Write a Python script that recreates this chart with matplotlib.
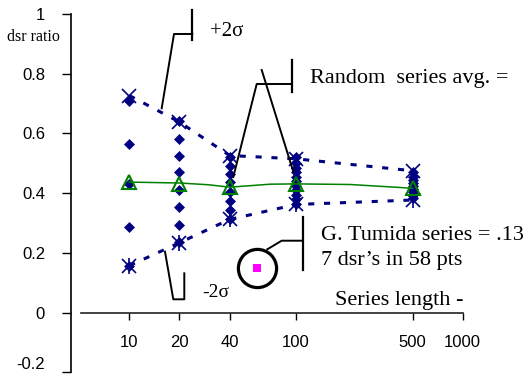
import matplotlib
matplotlib.use('Agg')
import matplotlib.pyplot as plt
import matplotlib.transforms as mtransforms
from matplotlib.lines import Line2D

# series length categories
lengths = [10, 20, 40, 100, 500]

# +/- 2 sigma envelopes of the random series
upper_2sd = [0.727, 0.638, 0.526, 0.515, 0.475]
lower_2sd = [0.157, 0.234, 0.312, 0.362, 0.377]

# random series average (markers + smoothed curve)
avg_ratio = [0.436, 0.431, 0.419, 0.431, 0.418]
avg_curve_x = [10, 20, 30, 40, 53, 70, 100, 210, 420, 500]
avg_curve_y = [0.437, 0.434, 0.428, 0.420, 0.425, 0.430, 0.431, 0.429, 0.419, 0.416]

# individual random series dsr ratios
ratios_10 = [0.71, 0.565, 0.431, 0.286, 0.155]
ratios_20 = [0.64, 0.582, 0.524, 0.47, 0.41, 0.353, 0.294, 0.236]
ratios_40 = [0.52, 0.492, 0.465, 0.436, 0.403, 0.375, 0.345, 0.315]
ratios_100 = [0.52, 0.50, 0.485, 0.47, 0.455, 0.44, 0.425, 0.41, 0.395, 0.38, 0.365]
ratios_500 = [0.47, 0.455, 0.445, 0.435, 0.425, 0.415, 0.405, 0.395, 0.385]

# G. tumida series
tumida_len = [58]
tumida_ratio = [0.15]

xticks = [10, 20, 40, 100, 500, 1000]
xticklabels = ['10', '20', '40', '100', '500', '1000']
yticks = [-0.2, 0, 0.2, 0.4, 0.6, 0.8, 1]
yticklabels = ['-0.2', '0', '0.2', '0.4', '0.6', '0.8', '1']

navy = '#000080'
green = '#008000'
serif = 'Liberation Serif'
sans = 'Liberation Sans'

W, H = 530, 377
fig = plt.figure(figsize=(W / 100, H / 100), dpi=100)
ax = fig.add_axes([70.7 / W, 4.7 / H, 392.0 / W, 358.3 / H])
ax.set_xscale('log')
ax.set_xlim(4.45, 1000)
ax.set_ylim(-0.2, 1)

# scatter of individual series
for n, vals in zip(lengths, [ratios_10, ratios_20, ratios_40, ratios_100, ratios_500]):
    ax.plot([n] * len(vals), vals, 'D', color=navy, ms=5.0, mew=0.5, zorder=3)

# envelopes
ax.plot(lengths, upper_2sd, color=navy, lw=2.2, ls=(0, (2.0, 3.2)),
        marker='x', ms=10.5, mew=1.2, zorder=4)
ax.plot(lengths, lower_2sd, color=navy, lw=2.2, ls=(0, (2.0, 3.2)),
        marker='x', ms=10.5, mew=1.2, zorder=4)
ax.plot(lengths, lower_2sd, ls='none', color=navy,
        marker='|', ms=11, mew=1.2, zorder=4)

# average
ax.plot(avg_curve_x, avg_curve_y, '-', color=green, lw=1.1, zorder=5)
ax.plot(lengths, avg_ratio, ls='none', marker='^', ms=10, mfc='none',
        mec=green, mew=1.5, zorder=6)

# G. tumida point
ax.plot(tumida_len, tumida_ratio, 's', color='#ff00ff', ms=6, mew=0, zorder=6)
ax.plot(tumida_len, tumida_ratio, 'o', mfc='none', mec='black', ms=27.5, mew=2.3, zorder=6)

# axes styling
for s in ['top', 'right']:
    ax.spines[s].set_visible(False)
ax.spines['left'].set_linewidth(1.2)
ax.spines['bottom'].set_linewidth(1.2)
ax.spines['bottom'].set_color('#222222')
ax.spines['bottom'].set_position(('data', 0))
ax.spines['bottom'].set_bounds(5.13, 1000)

ax.set_xticks(xticks)
ax.set_xticklabels(xticklabels, fontfamily=sans, fontsize=12)
ax.xaxis.set_minor_locator(matplotlib.ticker.NullLocator())
ax.set_yticks(yticks)
ax.set_yticklabels(yticklabels, fontfamily=sans, fontsize=12)
ax.get_yticklabels()[0].set_va('bottom')
ax.tick_params(axis='x', direction='out', length=4.8, width=1.0, pad=11)
ax.tick_params(axis='y', direction='out', length=6.5, width=1.0, pad=12)

# pixel-based transform for callouts
px = mtransforms.Affine2D().scale(1 / W, -1 / H).translate(0, 1) + fig.transFigure


def seg(xs, ys, lw=1.4):
    fig.add_artist(Line2D(xs, ys, transform=px, color='black', lw=lw))


# +2 sigma callout
seg([192.3, 192.3], [10, 40], lw=1.6)
seg([161.7, 174, 192.3], [108.3, 34, 34])
fig.text(210, 35.5, '+2σ', transform=px, fontfamily=serif, fontsize=15)

# random avg callout
seg([291.7, 291.7], [60, 91.7], lw=1.6)
seg([233.3, 256.7, 291.7], [177, 84, 84])
seg([261.7, 293.3], [70, 171.7])
fig.text(310, 82.5, 'Random  series avg. =', transform=px, fontfamily=serif, fontsize=16)

# -2 sigma callout
seg([165, 173.3, 184.3, 184.3], [251.7, 299.3, 299.3, 273.3])
fig.text(202, 296.7, '-2σ', transform=px, fontfamily=serif, fontsize=14)

# G. tumida callout
seg([302.7, 302.7], [216.7, 270], lw=1.6)
seg([267.3, 281.7, 302.7], [249.3, 240.7, 240.7])
fig.text(321, 240, 'G. Tumida series = .13', transform=px, fontfamily=serif, fontsize=16)
fig.text(321, 265, '7 dsr’s in 58 pts', transform=px, fontfamily=serif, fontsize=16)

fig.text(463.3, 305, 'Series length -', transform=px, fontfamily=serif, fontsize=16,
         ha='right')
fig.text(6.7, 40.7, 'dsr ratio', transform=px, fontfamily=serif, fontsize=11.5)

fig.savefig('out.png', dpi=100)
